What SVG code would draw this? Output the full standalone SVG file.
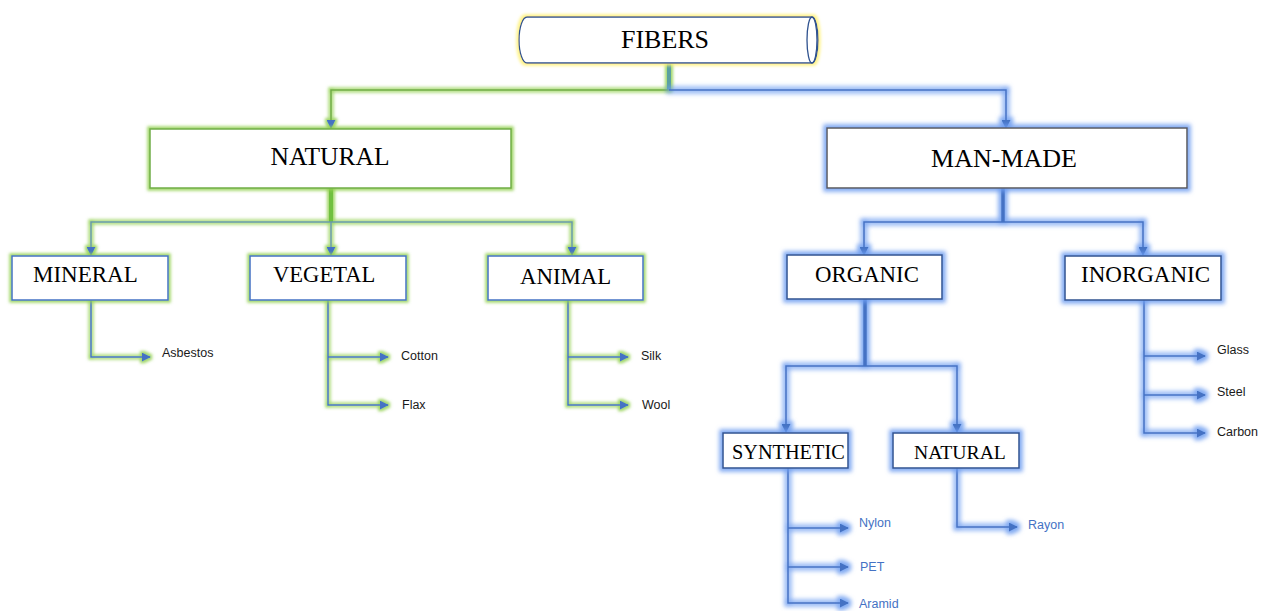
<svg xmlns="http://www.w3.org/2000/svg" width="1275" height="611" viewBox="0 0 1275 611">
<style>
.lbl{font-family:"Liberation Serif","Times New Roman",serif;fill:#000}
.leaf{font-family:"Liberation Sans",Arial,sans-serif;font-size:12.5px;fill:#1a1a1a}
.leafb{font-family:"Liberation Sans",Arial,sans-serif;font-size:12.5px;fill:#4472c4}
.box{fill:#fff}
.ln{fill:none;stroke:#4472c4;stroke-width:1.5}
.lng{fill:none;stroke:#70ad47;stroke-width:1.5}
.lngb{fill:none;stroke:#6a9aa8;stroke-width:1.5}
</style>
<defs>
<filter id="glowG" filterUnits="userSpaceOnUse" x="0" y="0" width="1275" height="611">
<feMorphology in="SourceAlpha" operator="dilate" radius="2" result="d"/>
<feGaussianBlur in="d" stdDeviation="1.8" result="b"/>
<feFlood flood-color="#92d050" flood-opacity="0.85"/>
<feComposite in2="b" operator="in" result="g"/>
<feMerge><feMergeNode in="g"/><feMergeNode in="SourceGraphic"/></feMerge>
</filter>
<filter id="glowB" filterUnits="userSpaceOnUse" x="0" y="0" width="1275" height="611">
<feMorphology in="SourceAlpha" operator="dilate" radius="2.8" result="d"/>
<feGaussianBlur in="d" stdDeviation="2" result="b"/>
<feFlood flood-color="#6c9cf0" flood-opacity="0.85"/>
<feComposite in2="b" operator="in" result="g"/>
<feMerge><feMergeNode in="g"/><feMergeNode in="SourceGraphic"/></feMerge>
</filter>
<filter id="glowY" filterUnits="userSpaceOnUse" x="0" y="0" width="1275" height="611">
<feMorphology in="SourceAlpha" operator="dilate" radius="2" result="d"/>
<feGaussianBlur in="d" stdDeviation="1.8" result="b"/>
<feFlood flood-color="#fff27a" flood-opacity="0.9"/>
<feComposite in2="b" operator="in" result="g"/>
<feMerge><feMergeNode in="g"/><feMergeNode in="SourceGraphic"/></feMerge>
</filter>
<marker id="arr" viewBox="0 0 10 10" refX="9" refY="5" markerWidth="9" markerHeight="9" markerUnits="userSpaceOnUse" orient="auto">
<path d="M0,0 L10,5 L0,10 z" fill="#4472c4"/>
</marker>
</defs>

<g id="connectors">
  <g filter="url(#glowG)">
    <line x1="669" y1="63" x2="669" y2="90" stroke="#5aa0a0" stroke-width="4"/>
    <path class="lng" d="M669,90 H331 V128" marker-end="url(#arr)"/>
    <line x1="331" y1="188" x2="331" y2="222" stroke="#70c040" stroke-width="4"/>
    <path class="lngb" d="M331,222 H91 V255" marker-end="url(#arr)"/>
    <path class="lngb" d="M331,222 V255" marker-end="url(#arr)"/>
    <path class="lngb" d="M331,222 H572 V255" marker-end="url(#arr)"/>
    <path class="ln" d="M91,300 V357 H150" marker-end="url(#arr)"/>
    <path class="ln" d="M328,300 V405 H388" marker-end="url(#arr)"/>
    <path class="ln" d="M328,357 H388" marker-end="url(#arr)"/>
    <path class="ln" d="M568,300 V405 H628" marker-end="url(#arr)"/>
    <path class="ln" d="M568,357 H628" marker-end="url(#arr)"/>
  </g>
  <g filter="url(#glowB)">
    <path class="ln" d="M669,90 H1006 V128" marker-end="url(#arr)"/>
    <line x1="1003" y1="188" x2="1003" y2="222" stroke="#4472c4" stroke-width="3.5"/>
    <path class="ln" d="M1003,222 H864 V255" marker-end="url(#arr)"/>
    <path class="ln" d="M1003,222 H1143 V255" marker-end="url(#arr)"/>
    <line x1="865" y1="299" x2="865" y2="366" stroke="#4472c4" stroke-width="3.5"/>
    <path class="ln" d="M865,366 H786 V432" marker-end="url(#arr)"/>
    <path class="ln" d="M865,366 H957 V432" marker-end="url(#arr)"/>
    <path class="ln" d="M788,468 V603 H848" marker-end="url(#arr)"/>
    <path class="ln" d="M788,528 H848" marker-end="url(#arr)"/>
    <path class="ln" d="M788,567 H848" marker-end="url(#arr)"/>
    <path class="ln" d="M957,468 V527 H1017" marker-end="url(#arr)"/>
    <path class="ln" d="M1144,300 V433 H1205" marker-end="url(#arr)"/>
    <path class="ln" d="M1144,356 H1205" marker-end="url(#arr)"/>
    <path class="ln" d="M1144,395 H1205" marker-end="url(#arr)"/>
  </g>
</g>

<g id="fibers">
  <path d="M527,17 H812 A6,23 0 0 1 812,63 H527 A8,23 0 0 1 527,17 z" fill="#fff" stroke="#2f528f" stroke-width="1.3" filter="url(#glowY)"/>
  <ellipse cx="812" cy="40" rx="5" ry="23" fill="none" stroke="#2f528f" stroke-width="1.3"/>
  <text class="lbl" x="665" y="48" font-size="26" text-anchor="middle">FIBERS</text>
</g>

<g id="natural">
  <rect class="box" x="150" y="129" width="361" height="59" stroke="#70ad47" stroke-width="1.5" filter="url(#glowG)"/>
  <text class="lbl" x="330" y="165" font-size="25.5" text-anchor="middle">NATURAL</text>
</g>
<g id="man-made">
  <rect class="box" x="827" y="128" width="360" height="60" stroke="#595959" stroke-width="1.5" filter="url(#glowB)"/>
  <text class="lbl" x="1004" y="167" font-size="26" text-anchor="middle">MAN-MADE</text>
</g>

<g id="mineral">
  <rect class="box" x="12" y="256" width="156" height="44" stroke="#4472c4" stroke-width="1.5" filter="url(#glowG)"/>
  <text class="lbl" x="33" y="282" font-size="23">MINERAL</text>
</g>
<g id="vegetal">
  <rect class="box" x="250" y="256" width="156" height="44" stroke="#4472c4" stroke-width="1.5" filter="url(#glowG)"/>
  <text class="lbl" x="273" y="282" font-size="22.6">VEGETAL</text>
</g>
<g id="animal">
  <rect class="box" x="488" y="256" width="155" height="44" stroke="#4472c4" stroke-width="1.5" filter="url(#glowG)"/>
  <text class="lbl" x="520" y="284" font-size="22.8">ANIMAL</text>
</g>

<g id="asbestos"><text class="leaf" x="162" y="357">Asbestos</text></g>
<g id="cotton"><text class="leaf" x="401" y="360">Cotton</text></g>
<g id="flax"><text class="leaf" x="402" y="409">Flax</text></g>
<g id="silk"><text class="leaf" x="641" y="360">Silk</text></g>
<g id="wool"><text class="leaf" x="642" y="409">Wool</text></g>

<g id="organic">
  <rect class="box" x="787" y="255" width="155" height="44" stroke="#2f528f" stroke-width="1.5" filter="url(#glowB)"/>
  <text class="lbl" x="815" y="282" font-size="22.8">ORGANIC</text>
</g>
<g id="inorganic">
  <rect class="box" x="1065" y="256" width="156" height="44" stroke="#2f528f" stroke-width="1.5" filter="url(#glowB)"/>
  <text class="lbl" x="1081" y="282" font-size="23">INORGANIC</text>
</g>
<g id="synthetic">
  <rect class="box" x="723" y="433" width="125" height="35" stroke="#2f528f" stroke-width="1.5" filter="url(#glowB)"/>
  <text class="lbl" x="732" y="459" font-size="20.3">SYNTHETIC</text>
</g>
<g id="natural-mm">
  <rect class="box" x="893" y="433" width="126" height="35" stroke="#2f528f" stroke-width="1.5" filter="url(#glowB)"/>
  <text class="lbl" x="914" y="459" font-size="19.7">NATURAL</text>
</g>

<g id="glass"><text class="leaf" x="1217" y="354">Glass</text></g>
<g id="steel"><text class="leaf" x="1217" y="396">Steel</text></g>
<g id="carbon"><text class="leaf" x="1217" y="436">Carbon</text></g>
<g id="nylon"><text class="leafb" x="859" y="527">Nylon</text></g>
<g id="pet"><text class="leafb" x="860" y="571">PET</text></g>
<g id="aramid"><text class="leafb" x="859" y="608">Aramid</text></g>
<g id="rayon"><text class="leafb" x="1028" y="529">Rayon</text></g>
</svg>
